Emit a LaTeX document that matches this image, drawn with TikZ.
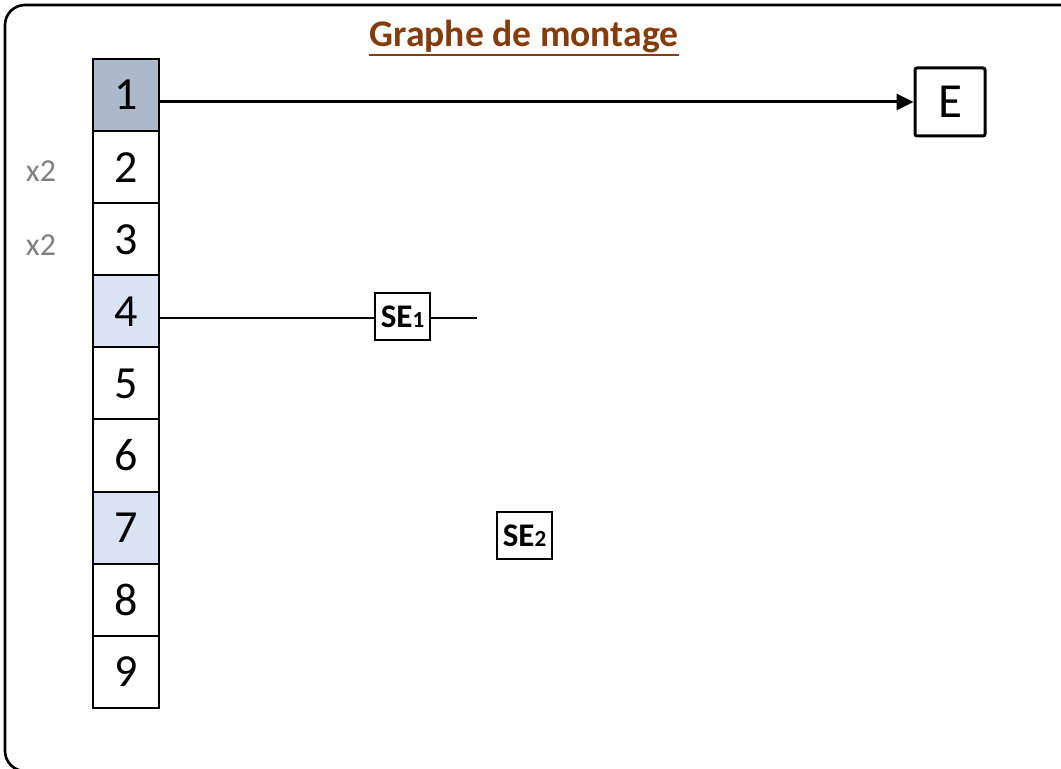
\documentclass[tikz,border=0pt]{standalone}
\usepackage{fontspec}
\setmainfont{Carlito}
\usetikzlibrary{arrows.meta}
\definecolor{titlebrown}{HTML}{843C0C}
\definecolor{darkcell}{HTML}{ADB9CA}
\definecolor{lightcell}{HTML}{DAE3F3}
\definecolor{greytext}{HTML}{7F7F7F}
\begin{document}
\begin{tikzpicture}[x=0.5pt,y=-0.5pt,
  cell/.style={draw, line width=1pt, minimum width=33pt, minimum height=36.05pt, inner sep=0pt, font=\fontsize{23}{23}\selectfont},
  sebox/.style={draw, line width=1pt, minimum width=27.5pt, minimum height=23.5pt, inner sep=0pt, font=\fontsize{16.5}{16.5}\selectfont\bfseries},
  mult/.style={text=greytext, font=\fontsize{16}{16}\selectfont, inner sep=0pt},
  frame/.style={line width=1.3pt, rounded corners=10pt}]
\path[use as bounding box] (0,0) rectangle (1061,769);
\begin{scope}
\clip (0,0) rectangle (1061,769);
\draw[frame] (5,5) rectangle (1085,771);
\end{scope}
% title
\node[inner sep=0pt, text=titlebrown, font=\fontsize{18.8}{18.8}\selectfont\bfseries, anchor=base] (title) at (524,47) {Graphe de montage};
\draw[titlebrown, line width=1.4pt] ([yshift=-4pt]title.base west) -- ([yshift=-4pt]title.base east);
% column
\foreach \i/\f in {1/darkcell,2/white,3/white,4/lightcell,5/white,6/white,7/lightcell,8/white,9/white}{
  \node[cell, fill=\f] (c\i) at (126,{59+72.1*(\i-0.5)}) {\i};
}
\node[mult] (m2) at (41,171) {x2};
\node[mult] (m3) at (41,245) {x2};
% E box
\node[draw, line width=1.5pt, rounded corners=1pt, minimum width=35pt, minimum height=34pt, inner sep=0pt, font=\fontsize{24.5}{24.5}\selectfont] (E) at (950,102) {E};
\draw[line width=1.5pt, -{Triangle[length=8.5pt,width=8pt]}] (c1.east |- E.west) -- (E.west);
% SE1
\node[sebox] (se1) at (402.5,316.5) {SE{\fontsize{11.5}{11.5}\selectfont 1}};
\coordinate (se1end) at (477,318);
\draw[line width=1pt] (c4.east |- se1end) -- (se1.west |- se1end);
\draw[line width=1pt] (se1.east |- se1end) -- (se1end);
% SE2
\node[sebox] (se2) at (524.5,535.5) {SE{\fontsize{11.5}{11.5}\selectfont 2}};
\end{tikzpicture}
\end{document}
